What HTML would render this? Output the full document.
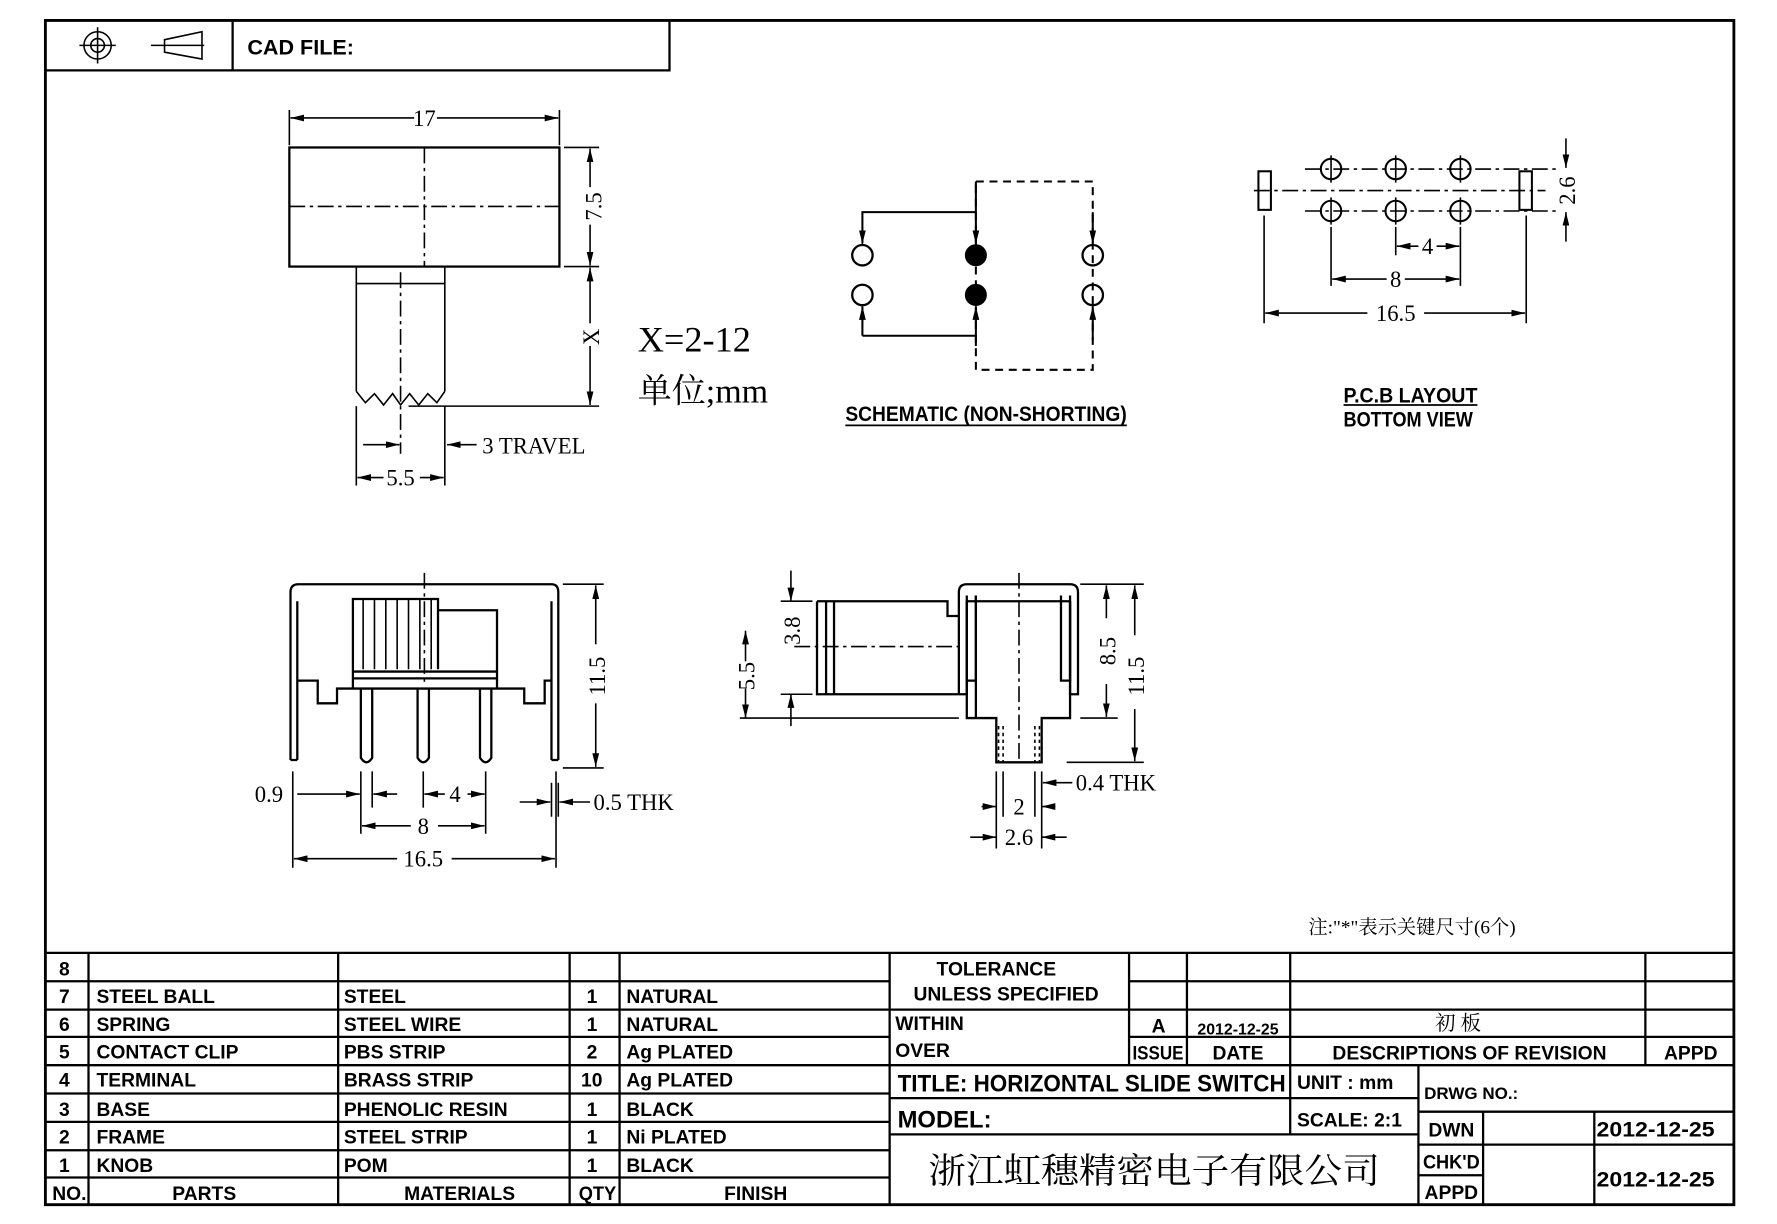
<!DOCTYPE html>
<html><head><meta charset="utf-8"><style>
html,body{margin:0;padding:0;background:#fff;}
svg{display:block;}
text{font-family:"Liberation Sans Narrow","Liberation Sans",sans-serif;font-weight:bold;fill:#000;}
.c{font-family:"Liberation Serif","Noto Serif CJK SC",serif;font-weight:normal;}
.t{font-size:17px;}
.ar path{marker-end:url(#a);}
</style></head><body>
<svg width="1777" height="1224" viewBox="0 0 1566 1079" preserveAspectRatio="none" xmlns="http://www.w3.org/2000/svg">
<defs>
<marker id="a" viewBox="0 0 12 6" refX="12" refY="3" markerWidth="12" markerHeight="6" orient="auto" markerUnits="userSpaceOnUse"><path d="M0,0L12,3L0,6z" fill="#000"/></marker>
</defs>
<g fill="none" stroke="#000" stroke-width="1.4">
<path d="M40,18H1528V1062H40Z" stroke-width="2.5"/>
<path d="M40,62H590V18M205,18V62" stroke-width="2"/>
<circle cx="86" cy="40" r="12"/><circle cx="86" cy="40" r="6"/><path d="M70,40H102M86,24V56"/>
<path d="M133,40H180M145,35L178,28V52L145,46Z"/>
<rect x="255" y="130" width="238" height="105" stroke-width="2"/>
<path d="M374,130V235M255,182H493M353,240V400" stroke-dasharray="14,4,3,4"/>
<path d="M314,235V345M392,235V345M314,250H392"/>
<path d="M314,345L322,355L330,347L338,357L346,347L353,357L361,347L369,357L377,347L385,355L392,345"/>
<path d="M255,97V128M493,97V128M497,130H528M497,235H528M360,358H528M314,358V428M392,358V428M392,375V405"/>
<g class="ar">
<path d="M365,104H256"/><path d="M385,104H492"/><path d="M520,165V131"/><path d="M520,198V234"/><path d="M520,285V236"/><path d="M520,305V357"/>
<path d="M320,392H352"/><path d="M420,392H394"/><path d="M338,421H315"/><path d="M370,421H391"/>
<path d="M760,200V215"/><path d="M860,200V215"/><path d="M963,200V215"/><path d="M760,285V270"/><path d="M860,285V270"/><path d="M963,285V270"/>
<path d="M1380,122V148"/><path d="M1380,213V187"/>
<path d="M1250,217H1231"/><path d="M1266,217H1286"/><path d="M1222,246H1174"/><path d="M1238,246H1286"/><path d="M1205,276H1115"/><path d="M1255,276H1344"/>
<path d="M525,568V516"/><path d="M525,620V676"/><path d="M262,700H317"/><path d="M350,700H329"/><path d="M392,700H374"/><path d="M412,700H427"/><path d="M458,707H485"/><path d="M520,707H493"/><path d="M362,728H319"/><path d="M386,728H427"/><path d="M350,757H259"/><path d="M398,757H489"/>
<path d="M697,503V530"/><path d="M697,640V612"/><path d="M657,583V556"/><path d="M657,607V633"/><path d="M975,545V516"/><path d="M975,603V632"/><path d="M1000,560V516"/><path d="M1000,625V671"/><path d="M865,711H878"/><path d="M930,711H918"/><path d="M855,738H878"/><path d="M940,738H918"/><path d="M945,690H919"/>
</g>
<path d="M860,160H963V326H860Z" stroke-dasharray="7,5" stroke-width="1.8"/>
<path d="M860,187H760V214M860,160V214M963,187V214M760,296V270M760,296H860M860,305V270M963,300V270" stroke-width="1.8"/>
<circle cx="760" cy="225" r="9" stroke-width="2"/><circle cx="760" cy="260" r="9" stroke-width="2"/>
<circle cx="963" cy="225" r="9" stroke-width="2"/><circle cx="963" cy="260" r="9" stroke-width="2"/>
<circle cx="860" cy="225" r="9" fill="#000"/><circle cx="860" cy="260" r="9" fill="#000"/>
<path d="M745,375H993M1184,357H1302" stroke-width="1.5"/>
<path d="M1105,168H1362M1150,149H1375M1150,186H1375" stroke-dasharray="14,4,3,4"/>
<g stroke-width="1.8">
<circle cx="1173" cy="149" r="9"/><circle cx="1230" cy="149" r="9"/><circle cx="1287" cy="149" r="9"/>
<circle cx="1173" cy="186" r="9"/><circle cx="1230" cy="186" r="9"/><circle cx="1287" cy="186" r="9"/>
<rect x="1109" y="151" width="11" height="34"/><rect x="1339" y="151" width="11" height="34"/>
</g>
<path d="M1173,137V161M1230,137V161M1287,137V161M1173,174V198M1230,174V198M1287,174V198"/>
<path d="M1114,190V285M1345,190V285M1173,200V252M1230,200V225M1287,200V252"/>
<g stroke-width="2">
<path d="M256,670V522Q256,515 263,515H486Q492,515 492,522V670"/>
<path d="M262,670V530M486,670V530M256,670H262M486,670H492"/>
<path d="M262,600H280V620H297V607H462V620H480V600H486"/>
<path d="M311,607V528H386V590M386,538H438V607M311,592H438M311,598H438"/>
<path d="M318,607V668Q323,676 328,668V607M368,607V668Q373,676 378,668V607M423,607V668Q428,676 433,668V607"/>
</g>
<path d="M320,528V590M330,528V590M340,528V590M350,528V590M360,528V590M370,528V590M380,528V590"/>
<path d="M374,505V605" stroke-dasharray="14,4,3,4"/>
<path d="M496,515H532M496,677H532M318,680V735M328,680V712M373,680V712M428,680V735M258,680V765M490,680V765M486,690V720M492,690V720"/>
<g stroke-width="2">
<path d="M845,612V522Q845,515 852,515H943Q950,515 950,522V612H943V530M852,530V612H845"/>
<path d="M852,530H943M852,525V600H860V525M935,525V600H943V525"/>
<path d="M852,530V633H878V672H918V633H943V530"/>
<path d="M860,525V633"/>
<path d="M720,530H835V543H845M720,530V612H845M728,530V612M735,530V612"/>
</g>
<path d="M880,640V672M884,640V672M912,640V672M916,640V672" stroke-dasharray="3,3"/>
<path d="M898,505V672M700,570H845" stroke-dasharray="14,4,3,4"/>
<path d="M688,530H716M688,612H716M652,633H845M952,515H985M952,633H985M940,672H1008M955,515H1008M878,680V748M884,680V720M912,680V720M918,680V748"/>
<g stroke-width="2">
<path d="M40,840H1528M40,865H784M40,890H784M40,914H784M40,939H784M40,964H784M40,989H784M40,1014H784M40,1038H784"/>
<path d="M995,865H1528M784,890H1528M995,914H1528M784,939H1528M784,968H1250M784,1000H1250M1250,980H1528M1250,1009H1528M1250,1036H1307"/>
<path d="M78,840V1062M298,840V1062M502,840V1062M546,840V1062M784,840V1062M995,840V939M1046,840V939M1137,840V1000M1450,840V939M1250,939V1062M1307,980V1062M1405,980V1062"/>
</g>
</g>
<text x="218" y="48" font-size="19">CAD  FILE:</text>
<text x="374" y="111" font-size="20" text-anchor="middle" class="c">17</text>
<text transform="translate(530,182) rotate(-90)" font-size="20" text-anchor="middle" class="c">7.5</text>
<text transform="translate(528,297) rotate(-90)" font-size="20" text-anchor="middle" class="c">X</text>
<text x="562" y="310" font-size="32" class="c">X=2-12</text>
<text x="562" y="355" font-size="30" class="c">单位;mm</text>
<text x="425" y="400" font-size="20" class="c">3 TRAVEL</text>
<text x="353" y="428" font-size="20" text-anchor="middle" class="c">5.5</text>
<text x="745" y="371" font-size="19" textLength="248" lengthAdjust="spacingAndGlyphs">SCHEMATIC  (NON-SHORTING)</text>
<text x="1184" y="355" font-size="19" textLength="118" lengthAdjust="spacingAndGlyphs">P.C.B  LAYOUT</text>
<text x="1184" y="376" font-size="19" textLength="114" lengthAdjust="spacingAndGlyphs">BOTTOM  VIEW</text>
<text transform="translate(1388,168) rotate(-90)" font-size="20" text-anchor="middle" class="c">2.6</text>
<text x="1258" y="224" font-size="20" text-anchor="middle" class="c">4</text>
<text x="1230" y="253" font-size="20" text-anchor="middle" class="c">8</text>
<text x="1230" y="283" font-size="20" text-anchor="middle" class="c">16.5</text>
<text transform="translate(533,596) rotate(-90)" font-size="20" text-anchor="middle" class="c">11.5</text>
<text x="237" y="707" font-size="20" text-anchor="middle" class="c">0.9</text>
<text x="401" y="707" font-size="20" text-anchor="middle" class="c">4</text>
<text x="523" y="714" font-size="20" class="c">0.5  THK</text>
<text x="373" y="735" font-size="20" text-anchor="middle" class="c">8</text>
<text x="373" y="764" font-size="20" text-anchor="middle" class="c">16.5</text>
<text transform="translate(705,556) rotate(-90)" font-size="20" text-anchor="middle" class="c">3.8</text>
<text transform="translate(665,596) rotate(-90)" font-size="20" text-anchor="middle" class="c">5.5</text>
<text transform="translate(983,574) rotate(-90)" font-size="20" text-anchor="middle" class="c">8.5</text>
<text transform="translate(1008,596) rotate(-90)" font-size="20" text-anchor="middle" class="c">11.5</text>
<text x="948" y="697" font-size="20" class="c">0.4  THK</text>
<text x="898" y="718" font-size="20" text-anchor="middle" class="c">2</text>
<text x="898" y="745" font-size="20" text-anchor="middle" class="c">2.6</text>
<text x="1153" y="823" font-size="17" class="c">注:"*"表示关键尺寸(6个)</text>
<g class="t">
<text x="52" y="860">8</text>
<text x="52" y="884">7</text><text x="85" y="884">STEEL  BALL</text><text x="303" y="884">STEEL</text><text x="517" y="884">1</text><text x="552" y="884">NATURAL</text>
<text x="52" y="909">6</text><text x="85" y="909">SPRING</text><text x="303" y="909">STEEL  WIRE</text><text x="517" y="909">1</text><text x="552" y="909">NATURAL</text>
<text x="52" y="933">5</text><text x="85" y="933">CONTACT  CLIP</text><text x="303" y="933">PBS  STRIP</text><text x="517" y="933">2</text><text x="552" y="933">Ag  PLATED</text>
<text x="52" y="958">4</text><text x="85" y="958">TERMINAL</text><text x="303" y="958">BRASS  STRIP</text><text x="512" y="958">10</text><text x="552" y="958">Ag  PLATED</text>
<text x="52" y="984">3</text><text x="85" y="984">BASE</text><text x="303" y="984">PHENOLIC  RESIN</text><text x="517" y="984">1</text><text x="552" y="984">BLACK</text>
<text x="52" y="1008">2</text><text x="85" y="1008">FRAME</text><text x="303" y="1008">STEEL  STRIP</text><text x="517" y="1008">1</text><text x="552" y="1008">Ni  PLATED</text>
<text x="52" y="1033">1</text><text x="85" y="1033">KNOB</text><text x="303" y="1033">POM</text><text x="517" y="1033">1</text><text x="552" y="1033">BLACK</text>
<text x="46" y="1058">NO.</text><text x="180" y="1058" text-anchor="middle">PARTS</text><text x="405" y="1058" text-anchor="middle">MATERIALS</text><text x="510" y="1058" textLength="33" lengthAdjust="spacingAndGlyphs">QTY</text><text x="666" y="1058" text-anchor="middle">FINISH</text>
<text x="878" y="860" text-anchor="middle">TOLERANCE</text>
<text x="805" y="882">UNLESS   SPECIFIED</text>
<text x="789" y="908">WITHIN</text><text x="789" y="932">OVER</text>
<text x="1021" y="910" text-anchor="middle">A</text><text x="1091" y="912" text-anchor="middle" font-size="14">2012-12-25</text>
<text x="1285" y="908" text-anchor="middle" class="c" font-size="18">初 板</text>
<text x="998" y="934" textLength="45" lengthAdjust="spacingAndGlyphs">ISSUE</text><text x="1091" y="934" text-anchor="middle">DATE</text>
<text x="1295" y="934" text-anchor="middle">DESCRIPTIONS  OF  REVISION</text><text x="1490" y="934" text-anchor="middle">APPD</text>
<text x="791" y="962" font-size="21" textLength="342" lengthAdjust="spacingAndGlyphs">TITLE:  HORIZONTAL  SLIDE  SWITCH</text>
<text x="1143" y="960">UNIT  :  mm</text>
<text x="1255" y="969" font-size="15">DRWG  NO.:</text>
<text x="791" y="994" font-size="21">MODEL:</text>
<text x="1143" y="993">SCALE:  2:1</text>
<text x="1279" y="1002" text-anchor="middle">DWN</text>
<text x="1407" y="1002" font-size="19" textLength="104" lengthAdjust="spacingAndGlyphs">2012-12-25</text>
<text x="1279" y="1030" text-anchor="middle" textLength="50" lengthAdjust="spacingAndGlyphs">CHK'D</text>
<text x="1279" y="1057" text-anchor="middle">APPD</text>
<text x="1407" y="1046" font-size="19" textLength="104" lengthAdjust="spacingAndGlyphs">2012-12-25</text>
</g>
<text x="818" y="1043" font-size="31" class="c" textLength="398" lengthAdjust="spacingAndGlyphs">浙江虹穗精密电子有限公司</text>
</svg>
</body></html>
